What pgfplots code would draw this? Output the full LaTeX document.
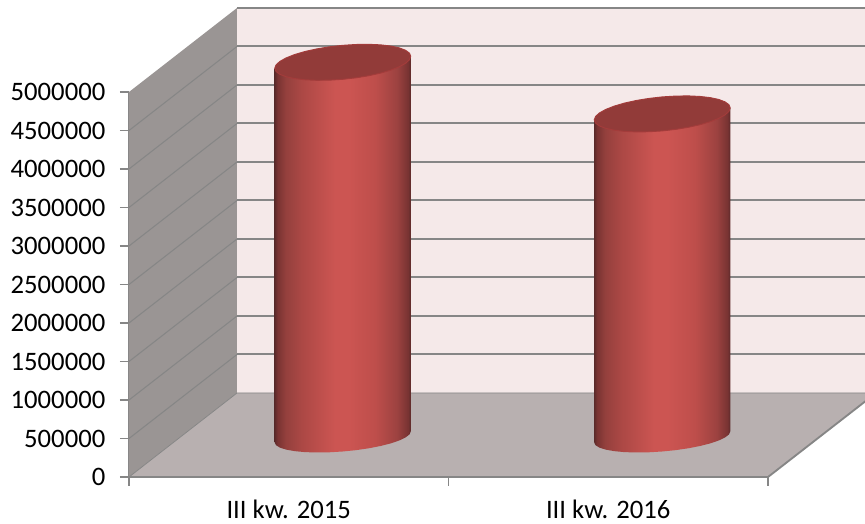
\documentclass[border=0pt]{standalone}
\usepackage{pgfplots}
\usepackage{pgfplotstable}
\usepackage{fontspec}
\setmainfont{Carlito}
\pgfplotsset{compat=1.18}
\definecolor{gridc}{HTML}{868686}
\definecolor{backw}{HTML}{F5E9E9}
\definecolor{leftw}{HTML}{9A9594}
\definecolor{floorc}{HTML}{B8B0B0}
\definecolor{capc}{HTML}{923B39}
\definecolor{capedge}{HTML}{A33C3B}
\definecolor{HTMLa}{HTML}{5C2A2A}
\definecolor{HTMLb}{HTML}{783332}
\definecolor{HTMLc}{HTML}{94403D}
\definecolor{HTMLd}{HTML}{AC4845}
\definecolor{HTMLe}{HTML}{CC5552}
\definecolor{HTMLf}{HTML}{BE4E4B}
\definecolor{HTMLg}{HTML}{9C4240}
\pgfdeclarehorizontalshading{cyl}{100bp}{
 color(0bp)=(HTMLa);color(25bp)=(HTMLa);color(26bp)=(HTMLb);color(29bp)=(HTMLc);color(35bp)=(HTMLd);
 color(47bp)=(HTMLe);color(52bp)=(HTMLe);color(62bp)=(HTMLf);color(70bp)=(HTMLg);color(74bp)=(HTMLb);color(75bp)=(HTMLa);color(100bp)=(HTMLa)}
% side of a cylinder: dx = pixels right of its centre, lev = 1 on the top rim, up = pixels above the floor line
\pgfplotstableread{
dx lev up
68 1 48
68 0 45.5
66.7 0 42.56
62.8 0 39.53
56.5 0 36.51
48.1 0 33.64
37.8 0 31
26 0 28.7
13.3 0 26.85
0 0 25.5
-13.3 0 24.71
-26 0 24.5
-37.8 0 24.88
-48.1 0 25.86
-56.5 0 27.37
-62.8 0 29.37
-66.7 0 31.78
-68 0 34.5
-68 1 36
}\bodytab
% top ellipse of a cylinder
\pgfplotstableread{
dx dy
68 -6
66.7 -2.56
62.8 0.97
56.5 4.46
48.1 7.78
37.8 10.81
26 13.41
13.3 15.5
0 17
-13.3 17.84
-26 18.01
-37.8 17.47
-48.1 16.26
-56.5 14.44
-62.8 12.05
-66.7 9.2
-68 6
-66.7 2.56
-62.8 -0.97
-56.5 -4.46
-48.1 -7.78
-37.8 -10.81
-26 -13.41
-13.3 -15.5
0 -17
13.3 -17.84
26 -18.01
37.8 -17.47
48.1 -16.26
56.5 -14.44
62.8 -12.05
66.7 -9.2
68 -6
}\captab
\newcommand\cylinder[2]{%
 \addplot[draw=none,shading=cyl] table[x expr={#1+(54+\thisrow{dx})/319.5},y expr={\thisrow{lev}*#2+\thisrow{up}*12987}]{\bodytab};
 \addplot[draw=capedge,line width=0.7pt,fill=capc] table[x expr={#1+(54+\thisrow{dx})/319.5},y expr={#2+(42-\thisrow{dy})*12987}]{\captab};
}
\begin{document}
\begin{tikzpicture}
\useasboundingbox (-96.75pt,-35.25pt) rectangle (552pt,357.75pt);
\begin{axis}[
 at={(0,0)},anchor=south west,
 scale only axis,width=479.25pt,height=288.75pt,
 xmin=0,xmax=2,ymin=0,ymax=5000000,clip=false,
 axis x line*=bottom,axis y line*=left,
 axis line style={draw=gridc,line width=0.9pt,-},
 tick align=outside,major tick length=6.75pt,
 tick style={draw=gridc,line width=0.9pt},
 xtick={0,1,2},x tick label as interval,
 xticklabels={III kw. 2015,III kw. 2016},
 ytick={0,500000,1000000,1500000,2000000,2500000,3000000,3500000,4000000,4500000,5000000},
 scaled y ticks=false,
 /pgf/number format/.cd,fixed,1000 sep={},assume math mode=true,
 /pgfplots/.cd,
 tick label style={font=\fontsize{20pt}{22pt}\selectfont,text=black},
 yticklabel style={xshift=-7.5pt},
 xticklabel style={inner ysep=0pt,yshift=-10.5pt},
 ]
 % walls and floor
 \addplot[draw=none,fill=backw] coordinates {(0.338,1090908)(2.338,1090908)(2.338,6090908)(0.338,6090908)};
 \addplot[draw=none,fill=leftw] coordinates {(0,0)(0.338,1090908)(0.338,6090908)(0,5000000)};
 \addplot[draw=none,fill=floorc] coordinates {(0,0)(2,0)(2.338,1090908)(0.338,1090908)};
 % grid on the back wall
 \addplot[gridc,line width=1.5pt,unbounded coords=jump] coordinates {
 (0.338,1590908)(2.338,1590908)(0.338,nan)
 (0.338,2090908)(2.338,2090908)(0.338,nan)
 (0.338,2590908)(2.338,2590908)(0.338,nan)
 (0.338,3090908)(2.338,3090908)(0.338,nan)
 (0.338,3590908)(2.338,3590908)(0.338,nan)
 (0.338,4090908)(2.338,4090908)(0.338,nan)
 (0.338,4590908)(2.338,4590908)(0.338,nan)
 (0.338,5090908)(2.338,5090908)(0.338,nan)
 (0.338,5590908)(2.338,5590908)(0.338,nan)
 (0.338,6090908)(2.338,6090908)};
 % grid on the left wall
 \addplot[gridc,line width=0.8pt,unbounded coords=jump] coordinates {
 (0,500000)(0.338,1590908)(0,nan)
 (0,1000000)(0.338,2090908)(0,nan)
 (0,1500000)(0.338,2590908)(0,nan)
 (0,2000000)(0.338,3090908)(0,nan)
 (0,2500000)(0.338,3590908)(0,nan)
 (0,3000000)(0.338,4090908)(0,nan)
 (0,3500000)(0.338,4590908)(0,nan)
 (0,4000000)(0.338,5090908)(0,nan)
 (0,4500000)(0.338,5590908)};
 % floor edges
 \addplot[gridc,line width=0.6pt] coordinates {(0,0)(0.338,1090908)(2.338,1090908)};
 \addplot[gridc,line width=1.4pt] coordinates {(2,0)(2.338,1090908)};
 \addplot[gridc,line width=2pt] coordinates {(0,0)(2,0)};
 \cylinder{0.5}{4840000}
 \cylinder{1.5}{4170000}
\end{axis}
\end{tikzpicture}
\end{document}
